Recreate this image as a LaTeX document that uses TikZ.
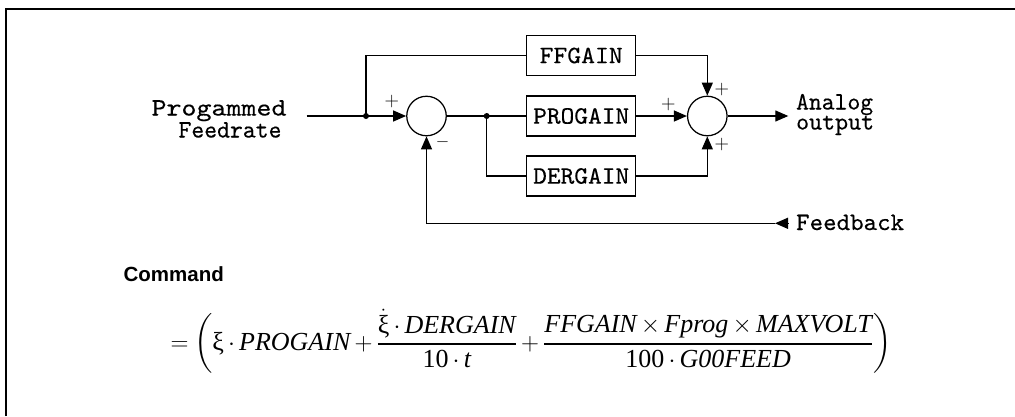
\documentclass[tikz,border=0pt]{standalone}
\usepackage{fontspec}
\usepackage{amsmath}
\usetikzlibrary{arrows.meta}
\newfontfamily\fml{Liberation Serif}
\newfontfamily\cmdf{Liberation Sans}
\newfontfamily\dmono{lmmono10-regular}[Extension=.otf, FakeBold=0.3]
\newcommand{\fw}[2]{\resizebox{#1}{\height}{\dmono #2}}
\newcommand{\fmi}[1]{\text{\fml\itshape #1}}
\newcommand{\fmu}[1]{\text{\fml #1}}
\begin{document}
\begin{tikzpicture}[x=1pt,y=-1pt,
  line width=1.25pt,
  arr/.style={-{Triangle[length=13pt,width=11pt]}},
  blk/.style={draw, minimum width=109pt, minimum height=40pt, inner sep=0pt, font=\fontsize{25}{28}\selectfont},
  sumc/.style={draw, circle, minimum size=39.5pt, inner sep=0pt},
  dotn/.style={fill, circle, minimum size=6pt, inner sep=0pt},
  lab/.style={inner sep=0pt, font=\fontsize{25}{28}\selectfont},
  sgn/.style={inner sep=0pt, font=\fontsize{20}{22}\selectfont},
]
\useasboundingbox (0,0) rectangle (1015,416);
% frame
\draw[line width=2.3pt] (6.2,416) -- (6.2,9.2) -- (1015,9.2);
% blocks
\node[blk] (ff) at (581.2,55.5) {\fw{83pt}{FFGAIN}};
\node[blk] (pg) at (581.2,116) {\fw{96pt}{PROGAIN}};
\node[blk] (dg) at (581.2,176) {\fw{96pt}{DERGAIN}};
\node[sumc] (s1) at (426.5,116) {};
\node[sumc] (s2) at (707.3,116) {};
\coordinate (in) at (306.7,116);
\node[dotn] (d1) at (366,116) {};
\node[dotn] (d2) at (486.7,116) {};
\coordinate (out) at (788.3,116);
\coordinate (fb) at (788.3,223.3);
\coordinate (fbt) at (775,223.3);
% connectors
\draw[arr] (in) -- (s1.west);
\draw (d1.center) |- (ff.west);
\draw[arr] (ff.east) -| (s2.north);
\draw (s1.east) -- (pg.west);
\draw (d2.center) |- (dg.west);
\draw[arr] (pg.east) -- (s2.west);
\draw[arr] (dg.east) -| (s2.south);
\draw[arr] (s2.east) -- (out);
\draw[arr] (fb) -- (fbt);
\draw[arr] (fbt) -| (s1.south);
% labels
\node[lab, anchor=base] (t1) at (219,115.5) {\fw{135pt}{Progammed}};
\node[lab, anchor=base] (t2) at (230,137.5) {\fw{103pt}{Feedrate}};
\node[lab, anchor=base west] (t3) at (795.5,109.5) {\fw{77pt}{Analog}};
\node[lab, anchor=base west] (t4) at (795.5,129.5) {\fw{78pt}{output}};
\node[lab, anchor=base west] (t5) at (795.5,230) {\fw{108pt}{Feedback}};
% signs
\node[sgn] (p1) at (391.7,101.7) {+};
\node[sgn, font=\fontsize{16}{18}\selectfont] (m1) at (442.7,141.7) {$-$};
\node[sgn] (p2) at (668.3,105) {+};
\node[sgn] (p3) at (721.7,90) {+};
\node[sgn] (p4) at (721.7,145) {+};
% command and formula
\node[anchor=base west, inner sep=0pt, font=\cmdf\bfseries\fontsize{20.5}{24}\selectfont] (cmd) at (123,281) {Command};
\node[anchor=base west, inner sep=0pt, font=\fontsize{26}{30}\selectfont] (eq) at (170,350) {\medmuskip=3mu\thickmuskip=4mu$= \biggl(\fmu{ξ}\cdot\fmi{PROGAIN} + \genfrac{}{}{1.6pt}{0}{\dot{\fmu{ξ}}\cdot\fmi{DERGAIN}}{\fmu{10}\cdot\fmi{t}} + \genfrac{}{}{1.6pt}{0}{\fmi{FFGAIN}\times\fmi{Fprog}\times\fmi{MAXVOLT}}{\fmu{100}\cdot\fmi{G00FEED}}\biggr)$};
\end{tikzpicture}
\end{document}
